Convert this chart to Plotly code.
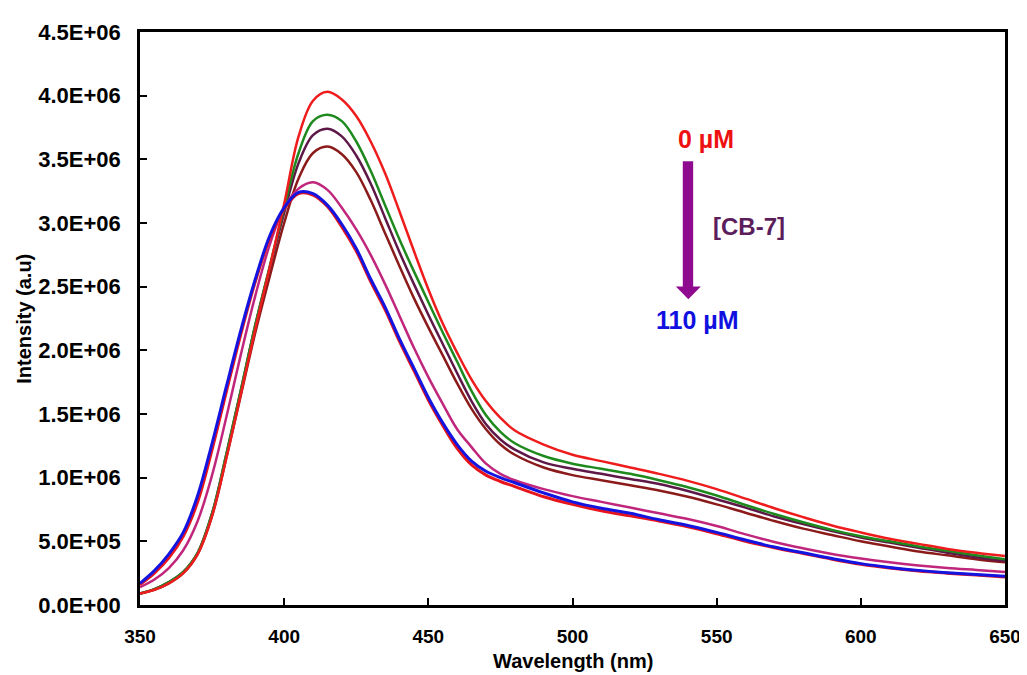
import plotly.graph_objects as go

wavelength = [350, 355, 360, 365, 370, 375, 380, 385, 390, 395, 400, 405, 410, 415, 420, 425,
              430, 435, 440, 445, 450, 455, 460, 465, 470, 475, 480, 490, 500, 510, 520, 530,
              540, 550, 560, 570, 580, 590, 600, 610, 620, 630, 640, 650]

# intensities in units of 1E6
red_0uM = [0.09, 0.12, 0.17, 0.25, 0.40, 0.70, 1.16, 1.66, 2.17, 2.65, 3.15, 3.68, 3.96, 4.03, 3.97, 3.84,
           3.64, 3.39, 3.09, 2.78, 2.48, 2.21, 1.98, 1.77, 1.60, 1.47, 1.37, 1.26, 1.18, 1.13, 1.08, 1.03,
           0.975, 0.91, 0.835, 0.76, 0.69, 0.625, 0.57, 0.52, 0.48, 0.44, 0.41, 0.385]
green = [0.09, 0.125, 0.18, 0.26, 0.41, 0.72, 1.19, 1.69, 2.20, 2.66, 3.12, 3.55, 3.80, 3.85, 3.80, 3.64,
         3.41, 3.14, 2.87, 2.62, 2.38, 2.14, 1.91, 1.68, 1.49, 1.36, 1.27, 1.17, 1.11, 1.07, 1.03, 0.98,
         0.925, 0.86, 0.785, 0.715, 0.65, 0.59, 0.54, 0.50, 0.46, 0.425, 0.39, 0.36]
maroon = [0.09, 0.125, 0.18, 0.26, 0.41, 0.72, 1.19, 1.69, 2.20, 2.65, 3.08, 3.47, 3.69, 3.74, 3.68, 3.53,
          3.31, 3.04, 2.77, 2.52, 2.28, 2.05, 1.82, 1.60, 1.42, 1.30, 1.22, 1.12, 1.07, 1.03, 0.99, 0.95,
          0.895, 0.83, 0.765, 0.695, 0.635, 0.58, 0.53, 0.49, 0.45, 0.41, 0.375, 0.345]
brown = [0.09, 0.12, 0.17, 0.25, 0.40, 0.70, 1.16, 1.65, 2.14, 2.58, 3.00, 3.35, 3.55, 3.60, 3.54, 3.40,
         3.18, 2.92, 2.66, 2.41, 2.18, 1.96, 1.74, 1.54, 1.38, 1.26, 1.18, 1.08, 1.02, 0.98, 0.94, 0.90,
         0.85, 0.79, 0.725, 0.66, 0.60, 0.55, 0.50, 0.46, 0.42, 0.39, 0.36, 0.335]
magenta = [0.14, 0.20, 0.29, 0.43, 0.66, 1.02, 1.48, 1.97, 2.43, 2.83, 3.12, 3.27, 3.32, 3.26, 3.12, 2.95,
           2.75, 2.52, 2.27, 2.02, 1.79, 1.58, 1.38, 1.24, 1.11, 1.03, 0.98, 0.91, 0.855, 0.81, 0.765, 0.72,
           0.675, 0.62, 0.555, 0.495, 0.445, 0.40, 0.365, 0.335, 0.31, 0.29, 0.275, 0.26]
red_b = [0.16, 0.25, 0.37, 0.54, 0.81, 1.22, 1.68, 2.13, 2.54, 2.88, 3.11, 3.23, 3.22, 3.13, 2.97, 2.78,
         2.54, 2.32, 2.07, 1.84, 1.61, 1.41, 1.23, 1.10, 1.02, 0.97, 0.93, 0.85, 0.79, 0.74, 0.70, 0.66,
         0.615, 0.56, 0.50, 0.45, 0.405, 0.36, 0.32, 0.29, 0.267, 0.25, 0.235, 0.22]
blue_110uM = [0.17, 0.27, 0.40, 0.57, 0.86, 1.27, 1.72, 2.16, 2.56, 2.90, 3.12, 3.24, 3.23, 3.14, 2.99, 2.80,
              2.56, 2.34, 2.09, 1.86, 1.63, 1.43, 1.26, 1.13, 1.05, 1.00, 0.96, 0.88, 0.81, 0.76, 0.72, 0.67,
              0.625, 0.57, 0.51, 0.455, 0.41, 0.365, 0.325, 0.295, 0.272, 0.254, 0.24, 0.225]

series = [
    ("brown", brown, "#8B1A1A", 2.5),
    ("maroon", maroon, "#5E1848", 2.5),
    ("green", green, "#1E8A1E", 2.5),
    ("0 uM", red_0uM, "#EE1C1C", 2.5),
    ("magenta", magenta, "#C0267C", 2.5),
    ("red b", red_b, "#E8141C", 3),
    ("110 uM", blue_110uM, "#1414E0", 3),
]

y_tickvals = [0, 0.5e6, 1.0e6, 1.5e6, 2.0e6, 2.5e6, 3.0e6, 3.5e6, 4.0e6, 4.5e6]
y_ticktext = ["0.0E+00", "5.0E+05", "1.0E+06", "1.5E+06", "2.0E+06", "2.5E+06",
              "3.0E+06", "3.5E+06", "4.0E+06", "4.5E+06"]
x_tickvals = [350, 400, 450, 500, 550, 600, 650]

fig = go.Figure()
for name, vals, color, w in series:
    fig.add_trace(go.Scatter(x=wavelength, y=[v * 1e6 for v in vals], mode="lines",
                             line=dict(color=color, width=w, shape="spline", smoothing=1.0),
                             name=name, showlegend=False))

sans = "Arial, Liberation Sans"

fig.update_layout(
    width=1027, height=675,
    margin=dict(l=132, r=30, t=16, b=78),
    paper_bgcolor="white", plot_bgcolor="white",
    showlegend=False,
    xaxis=dict(range=[350, 650], tickvals=x_tickvals, ticks="inside", ticklen=7, tickwidth=2,
               tickcolor="black", showline=True, linecolor="black", linewidth=2.5, mirror=True,
               showgrid=False, zeroline=False,
               tickfont=dict(family=sans, size=19, color="black", weight="bold"),
               ticklabelstandoff=12),
    yaxis=dict(range=[0, 4.5e6], tickvals=y_tickvals, ticktext=y_ticktext, ticks="inside",
               ticklen=7, tickwidth=2, tickcolor="black", showline=True, linecolor="black",
               linewidth=2.5, mirror=True, showgrid=False, zeroline=False,
               tickfont=dict(family=sans, size=22, color="black", weight="bold"),
               ticklabelstandoff=12),
)

# axis titles
fig.add_annotation(x=0.5, y=-0.098, xref="paper", yref="paper", text="Wavelength (nm)",
                   showarrow=False, xanchor="center", yanchor="middle",
                   font=dict(family=sans, size=20, color="black", weight="bold"))
fig.add_annotation(x=-0.135, y=0.5, xref="paper", yref="paper", text="Intensity (a.u)",
                   showarrow=False, textangle=-90, xanchor="center", yanchor="middle",
                   font=dict(family=sans, size=20, color="black", weight="bold"))

# concentration arrow
arrow_color = "#8E0A8E"
fig.add_shape(type="rect", xref="paper", yref="paper", x0=0.6275, x1=0.6395, y0=0.552, y1=0.7745,
              fillcolor=arrow_color, line=dict(width=0))
fig.add_shape(type="path", xref="paper", yref="paper",
              path="M 0.6195 0.5559 L 0.6484 0.5559 L 0.6339 0.5336 Z",
              fillcolor=arrow_color, line=dict(width=0))

fig.add_annotation(x=0.654, y=0.8124, xref="paper", yref="paper", text="0 µM", showarrow=False,
                   xanchor="center", yanchor="middle",
                   font=dict(family=sans, size=25, color="#EE1111", weight="bold"))
fig.add_annotation(x=0.7045, y=0.661, xref="paper", yref="paper", text="[CB-7]", showarrow=False,
                   xanchor="center", yanchor="middle",
                   font=dict(family=sans, size=24, color="#5B1D5B", weight="bold"))
fig.add_annotation(x=0.6445, y=0.497, xref="paper", yref="paper", text="110 µM", showarrow=False,
                   xanchor="center", yanchor="middle",
                   font=dict(family=sans, size=25, color="#1010E0", weight="bold"))

fig.write_html("out.html")
